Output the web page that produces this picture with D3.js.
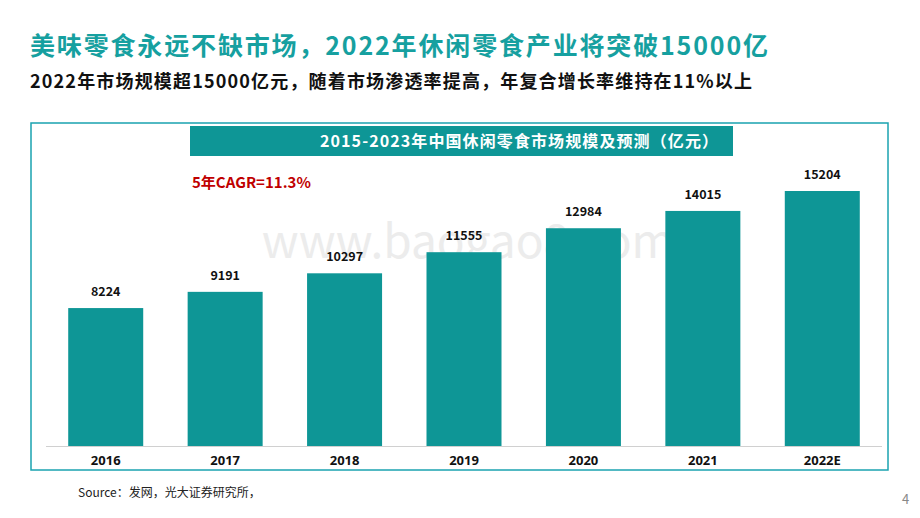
<!DOCTYPE html>
<html><head><meta charset="utf-8">
<script src="https://cdn.jsdelivr.net/npm/d3@7"></script>
<style>body{margin:0;background:#fff}svg{display:block}text{font-family:"Noto Sans CJK SC","Noto Sans",sans-serif}</style>
</head><body><svg id="c" width="920" height="518"></svg>
<script>
const categories=["2016","2017","2018","2019","2020","2021","2022E"];
const values=[8224,9191,10297,11555,12984,14015,15204];
const title="美味零食永远不缺市场，2022年休闲零食产业将突破15000亿";
const subtitle="2022年市场规模超15000亿元，随着市场渗透率提高，年复合增长率维持在11%以上";
const chartTitle="2015-2023年中国休闲零食市场规模及预测（亿元）";
const note="5年CAGR=11.3%";
const source="Source：发网，光大证券研究所，";
const teal="#0e9696";
const svg=d3.select("#c");
svg.append("text").attr("x",468).attr("y",258).attr("text-anchor","middle").attr("font-size",46).attr("fill","#ececec").attr("font-family","Arial,Liberation Sans").text("www.baogao8.com");
svg.append("text").attr("x",30).attr("y",55).attr("font-size",25).attr("font-weight","bold").attr("fill","#16a0a0").attr("textLength",738).text(title);
svg.append("text").attr("x",30).attr("y",88).attr("font-size",18).attr("font-weight","bold").attr("fill","#111").attr("textLength",722).text(subtitle);
svg.append("rect").attr("x",31).attr("y",123).attr("width",857).attr("height",347).attr("fill","none").attr("stroke","#1aa3b0").attr("stroke-width",1.5);
svg.append("rect").attr("x",190).attr("y",126).attr("width",543).attr("height",30).attr("fill",teal);
svg.append("text").attr("x",320).attr("y",147).attr("font-size",16).attr("font-weight","bold").attr("fill","#fff").attr("textLength",398).text(chartTitle);
const x=d3.scaleBand().domain(categories).range([46,882]).paddingInner(0.372).paddingOuter(0.186);
const y=d3.scaleLinear().domain([0,15204]).range([446,191]);
svg.selectAll(".b").data(values).join("rect").attr("x",(d,i)=>x(categories[i])).attr("y",d=>y(d)).attr("width",x.bandwidth()).attr("height",d=>446-y(d)).attr("fill",teal);
svg.selectAll(".v").data(values).join("text").attr("x",(d,i)=>x(categories[i])+x.bandwidth()/2).attr("y",d=>y(d)-12).attr("text-anchor","middle").attr("font-size",12.5).attr("font-weight","bold").attr("fill","#111").text(d=>d);
svg.append("line").attr("x1",46).attr("x2",882).attr("y1",446.5).attr("y2",446.5).attr("stroke","#d0d0d0");
const ax=svg.append("g").attr("transform","translate(0,446)").call(d3.axisBottom(x).tickSize(0).tickPadding(10));
ax.select(".domain").remove();
ax.selectAll("text").attr("font-size",13).attr("font-weight","bold").attr("fill","#111").style("font-family","Noto Sans,sans-serif");
svg.append("text").attr("x",192).attr("y",188).attr("font-size",15).attr("font-weight","bold").attr("fill","#c00000").text(note);
svg.append("text").attr("x",78).attr("y",497).attr("font-size",12).attr("fill","#222").text(source);
svg.append("text").attr("x",902).attr("y",504).attr("font-size",13).attr("fill","#888").text("4");
</script></body></html>
